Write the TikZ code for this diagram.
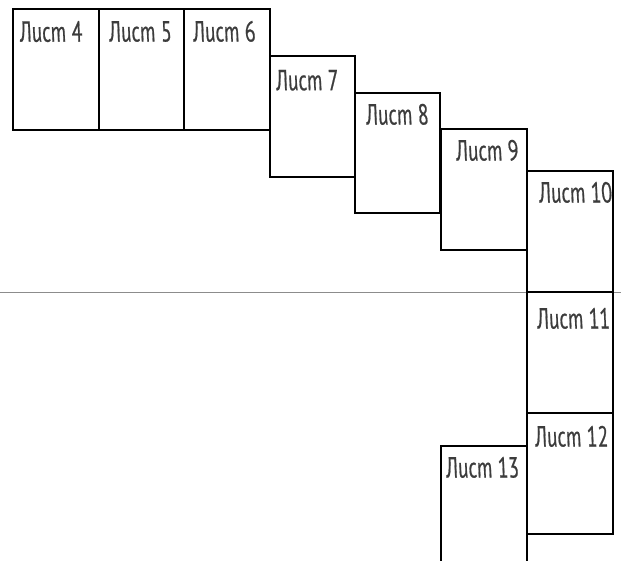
\documentclass[tikz,border=0pt]{standalone}
\usepackage{fontspec}
\newfontfamily\gost[FakeStretch=0.7, FakeSlant=-0.19, FakeBold=0.6]{PT Sans Italic}
\definecolor{txtgray}{HTML}{3C3C3C}
\definecolor{axisgray}{HTML}{8C8C8C}
\tikzset{
  sheet/.style={draw=black, line width=1.9pt, anchor=north west, inner sep=0pt,
    minimum width=86pt, minimum height=121pt, outer sep=0pt},
  sheetlabel/.style={anchor=base west, inner sep=0pt, text=txtgray,
    font=\gost\fontsize{29pt}{30pt}\selectfont},
  axisline/.style={draw=axisgray, line width=1pt}
}
\begin{document}
\begin{tikzpicture}[x=1pt,y=-1pt]
\useasboundingbox (0,0) rectangle (621,560);
\clip (0,0) rectangle (621,560);
\fill[white] (0,0) rectangle (621,560);
% horizontal reference line
\coordinate (la) at (0,292);
\coordinate (lb) at (621,292);
\draw[axisline] (la) -- (lb);
% sheets
\node[sheet, minimum width=86pt] (s4) at (13,9) {};
\node[sheet, minimum width=85pt] (s5) at (99,9) {};
\node[sheet, minimum width=86pt] (s6) at (184,9) {};
\node[sheet, minimum width=85pt] (s7) at (270,56) {};
\node[sheet, minimum width=85pt, minimum height=120pt] (s8) at (355,93) {};
\node[sheet] (s9) at (441,129) {};
\node[sheet] (s10) at (527,171) {};
\node[sheet] (s11) at (527,292) {};
\node[sheet] (s12) at (527,413) {};
\node[sheet] (s13) at (441,446) {};
% labels
\node[sheetlabel] (t4) at (20.7,41.7) {Лист 4};
\node[sheetlabel] (t5) at (110,41.5) {Лист 5};
\node[sheetlabel] (t6) at (194,41.5) {Лист 6};
\node[sheetlabel] (t7) at (277,90.2) {Лист 7};
\node[sheetlabel] (t8) at (367,124.5) {Лист 8};
\node[sheetlabel] (t9) at (457,160.5) {Лист 9};
\node[sheetlabel] (t10) at (540,202.5) {Лист 10};
\node[sheetlabel] (t11) at (538,328.5) {Лист 11};
\node[sheetlabel] (t12) at (536,446.5) {Лист 12};
\node[sheetlabel] (t13) at (447,477.5) {Лист 13};
\end{tikzpicture}
\end{document}
